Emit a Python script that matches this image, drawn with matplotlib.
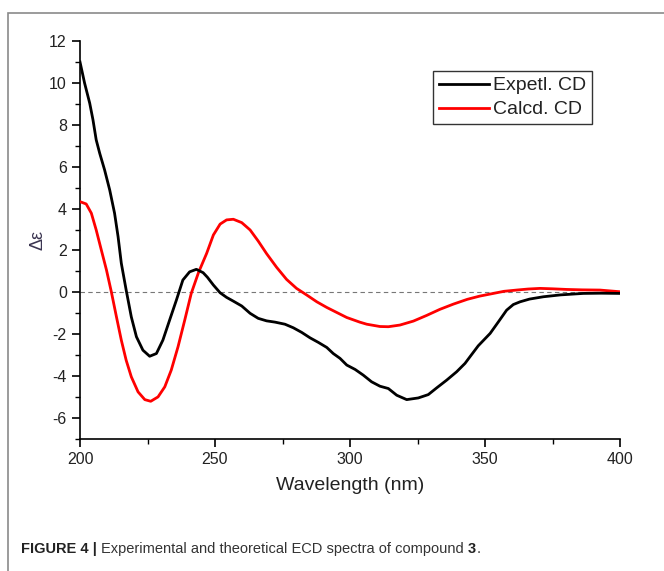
import matplotlib
matplotlib.use("Agg")
import matplotlib.pyplot as plt
from matplotlib.patches import Rectangle

plt.rcParams['font.family'] = ['Liberation Sans', 'DejaVu Sans']
plt.rcParams['axes.unicode_minus'] = False

# Experimental CD
exp_wl = [200.0, 201.7, 203.6, 204.8, 206.0, 207.3, 209.1, 211.0, 212.8, 214.1, 215.3,
          217.1, 219.0, 220.9, 223.3, 225.8, 228.3, 230.7, 233.2, 235.7, 238.1, 240.6,
          243.1, 245.6, 247.2, 249.4, 251.9, 254.3, 256.8, 259.9, 263.0, 266.0, 269.1,
          272.2, 275.9, 279.0, 282.1, 285.2, 288.3, 291.4, 293.8, 296.3, 298.8, 301.9,
          304.9, 308.0, 311.1, 314.2, 317.3, 321.0, 325.3, 329.0, 332.1, 335.8, 339.5,
          342.6, 344.4, 347.5, 351.9, 355.0, 358.0, 360.5, 363.0, 366.5, 371.6, 378.0,
          386.4, 393.0, 400.0]
exp_val = [11.0, 9.99, 9.03, 8.24, 7.28, 6.64, 5.85, 4.89, 3.78, 2.66, 1.39,
           0.11, -1.17, -2.12, -2.76, -3.05, -2.92, -2.28, -1.32, -0.37, 0.59, 0.98,
           1.10, 0.94, 0.72, 0.35, -0.02, -0.24, -0.42, -0.65, -1.00, -1.24, -1.36,
           -1.42, -1.52, -1.69, -1.91, -2.17, -2.39, -2.63, -2.92, -3.15, -3.47, -3.68,
           -3.95, -4.27, -4.48, -4.59, -4.91, -5.12, -5.04, -4.88, -4.56, -4.19, -3.79,
           -3.39, -3.08, -2.55, -1.96, -1.40, -0.85, -0.58, -0.45, -0.32, -0.21, -0.12,
           -0.05, -0.04, -0.05]

# Calculated CD
calc_wl = [200.0, 202.3, 204.2, 206.0, 207.9, 209.8, 211.6, 213.5, 215.3, 217.1, 219.0,
           221.5, 224.0, 226.2, 228.9, 231.4, 233.8, 236.3, 238.8, 241.2, 243.9, 246.9,
           249.4, 251.9, 254.3, 256.8, 259.9, 263.0, 266.0, 269.1, 272.8, 276.5, 280.2,
           283.9, 287.7, 291.4, 295.1, 298.8, 301.2, 303.6, 306.2, 311.1, 314.2, 318.5,
           323.5, 328.4, 333.3, 338.3, 343.5, 348.0, 353.1, 357.0, 361.7, 366.0, 370.4,
           375.0, 380.2, 386.0, 392.6, 400.0]
calc_val = [4.33, 4.22, 3.78, 2.98, 2.02, 1.07, 0.03, -1.17, -2.28, -3.24, -4.03,
            -4.75, -5.12, -5.20, -4.99, -4.51, -3.71, -2.60, -1.32, -0.05, 0.95, 1.86,
            2.74, 3.26, 3.46, 3.49, 3.33, 2.98, 2.45, 1.85, 1.20, 0.62, 0.19,
            -0.12, -0.45, -0.72, -0.96, -1.20, -1.31, -1.42, -1.52, -1.63, -1.64, -1.56,
            -1.37, -1.10, -0.81, -0.56, -0.33, -0.18, -0.05, 0.05, 0.11, 0.16, 0.19,
            0.17, 0.14, 0.12, 0.11, 0.03]

W, H = 664, 571
fig = plt.figure(figsize=(W / 100, H / 100), dpi=100)

# outer frame
fig.patches.append(Rectangle((8 / W, -0.1), 1.2, 1 - 13 / H + 0.1, transform=fig.transFigure,
                             fill=False, edgecolor='#8a8a8a', linewidth=1.2))

ax = fig.add_axes([80 / W, 1 - 439 / H, (620 - 80) / W, (439 - 41) / H])

ax.plot(calc_wl, calc_val, color='#ff0000', lw=2.0, label='Calcd. CD', zorder=3,
        solid_joinstyle='round')
ax.plot(exp_wl, exp_val, color='black', lw=2.0, label='Expetl. CD', zorder=4,
        solid_joinstyle='round')
ax.axhline(0, color='#777777', lw=0.8, ls=(0, (4, 3)), zorder=1)

ax.set_xlim(200, 400)
ax.set_ylim(-7, 12)
ax.spines['top'].set_visible(False)
ax.spines['right'].set_visible(False)
for s in ('left', 'bottom'):
    ax.spines[s].set_linewidth(1.2)

ax.set_xticks([200, 250, 300, 350, 400])
ax.set_xticks([225, 275, 325, 375], minor=True)
ax.set_yticks([-6, -4, -2, 0, 2, 4, 6, 8, 10, 12])
ax.set_yticks([-7, -5, -3, -1, 1, 3, 5, 7, 9, 11], minor=True)
ax.tick_params(which='major', direction='out', length=6, width=1.2, labelsize=11.5, colors='black')
ax.tick_params(which='minor', direction='out', length=3.5, width=1.0)
for lab in ax.get_xticklabels() + ax.get_yticklabels():
    lab.set_color('#222222')

ax.set_xlabel('Wavelength (nm)', fontsize=14, color='#222222', labelpad=7)
ax.set_ylabel('Δε', fontsize=13, color='#3a3450', labelpad=2)

handles, labels = ax.get_legend_handles_labels()
leg = ax.legend(handles[::-1], labels[::-1], loc='upper right',
                bbox_to_anchor=(592 / W, 1 - 71 / H), bbox_transform=fig.transFigure,
                fontsize=14, frameon=True, fancybox=False,
                handlelength=2.6, handletextpad=0.2, borderpad=0.3, labelspacing=0.33,
                borderaxespad=0)
leg.get_frame().set_edgecolor('black')
leg.get_frame().set_linewidth(1.0)
for t in leg.get_texts():
    t.set_color('#222222')

# caption, placed piece by piece on one baseline
renderer = fig.canvas.get_renderer()
cap_y = 1 - 553 / H
cap_fs = 10.5
pieces = [('FIGURE 4 |', 'bold', '#222222', 4),
          ('Experimental and theoretical ECD spectra of compound', 'normal', '#333333', 4.5),
          ('3', 'bold', '#222222', 0),
          ('.', 'normal', '#333333', 0)]
x_px = 21
for txt, wt, col, gap in pieces:
    t = fig.text(x_px / W, cap_y, txt, fontsize=cap_fs, fontweight=wt, color=col,
                 va='baseline', ha='left')
    bb = t.get_window_extent(renderer=renderer)
    x_px += bb.width + gap

fig.savefig('out.png', dpi=100)
